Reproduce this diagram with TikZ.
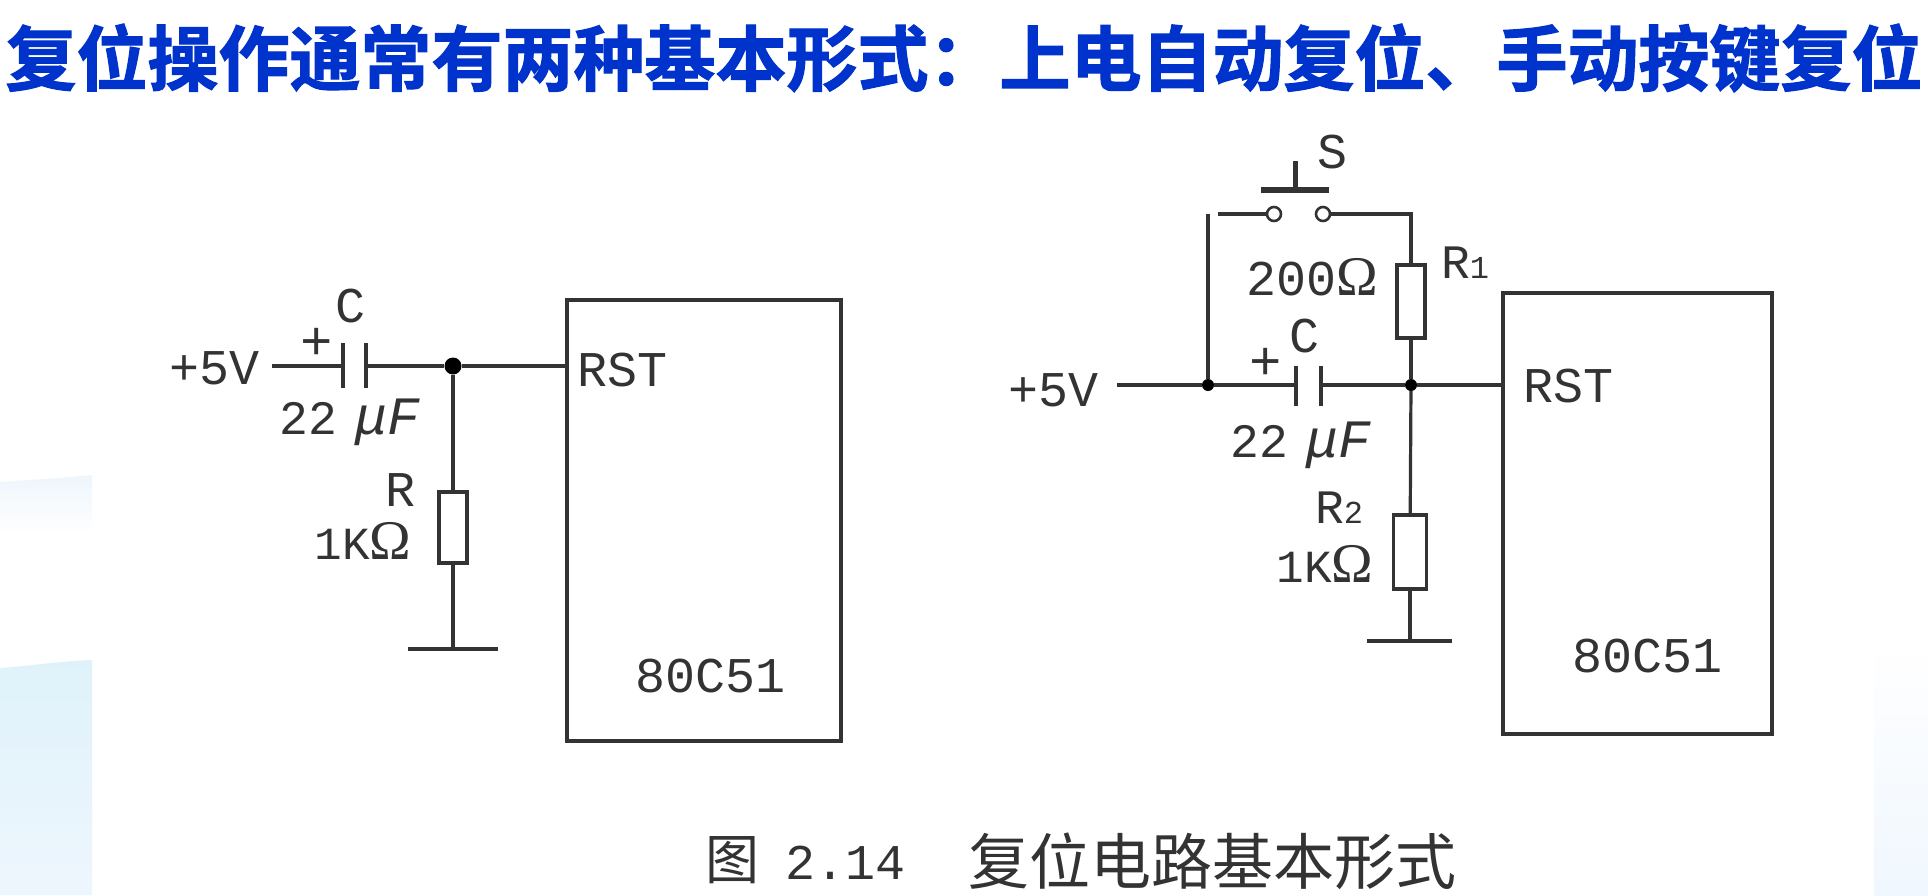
\documentclass[tikz,border=0pt]{standalone}
\usepackage{fontspec}
\setmainfont{Liberation Mono}
\newfontfamily\cjk{Noto Sans CJK SC}
\newfontfamily\cjkb[FakeBold=1.6]{Noto Sans CJK SC Bold}
\newfontfamily\ohmfont{Liberation Serif}
\newcommand{\bigohm}{{\ohmfont\fontsize{56}{56}\selectfont Ω}}
\newcommand{\capval}{22\hspace{18pt}{\itshape\fontsize{54}{54}\selectfont μF}}
\definecolor{ink}{HTML}{333333}
\definecolor{ttl}{HTML}{0033CC}
\definecolor{bandA}{HTML}{EEF6FC}
\definecolor{bandB}{HTML}{DFF2FA}
\definecolor{bandC}{HTML}{EEF6FD}
\definecolor{bandD}{HTML}{F0F7FE}
\tikzset{
  wire/.style={draw=ink,line width=3.2pt},
  lbl/.style={text=ink,inner sep=0pt,font=\fontsize{50}{50}\selectfont},
  slbl/.style={text=ink,inner sep=0pt,font=\fontsize{48}{48}\selectfont},
  res/.style={draw=ink,line width=3.2pt,fill=white,inner sep=0pt,minimum width=#1},
  res/.default=28pt,
  chip/.style={draw=ink,line width=3.6pt,inner sep=0pt},
  dot/.style={circle,fill=black,inner sep=0pt,minimum size=#1},
  term/.style={circle,draw=ink,line width=2.6pt,fill=white,inner sep=0pt,minimum size=14pt},
  pt/.style={coordinate}
}
\begin{document}
\begin{tikzpicture}[x=1pt,y=-1pt]
\useasboundingbox (0,0) rectangle (1928,895);
\fill[white] (0,0) rectangle (1928,895);
% pale background bands at the sides
\shade[top color=bandA,bottom color=white] (0,482) .. controls (30,480) and (60,478) .. (92,475) -- (92,535) -- (0,535) -- cycle;
\shade[top color=bandB,bottom color=bandC] (0,668) .. controls (30,666) and (60,661) .. (92,660) -- (92,895) -- (0,895) -- cycle;
\shade[top color=white,bottom color=bandD] (1874,640) rectangle (1928,895);
% title
\node[inner sep=0pt,text=ttl,font=\cjkb\fontsize{71}{72}\selectfont] (title) at (964,58) {复位操作通常有两种基本形式：上电自动复位、手动按键复位};
% left circuit
\node[chip,minimum width=274pt,minimum height=441pt] (chipL) at (704,520.5) {};
\node[lbl] (rstL) at (623,370) {RST};
\node[lbl] (mcuL) at (711,676) {80C51};
\node[lbl] (vL) at (215,368) {+5V};
\coordinate (inL) at (272,366);
\node[pt] (capLa) at (343,366) {};
\node[pt] (capLb) at (366,366) {};
\node[dot=17pt] (jL) at (453,366) {};
\node[res,minimum height=71pt] (rL) at (453,527.5) {};
\coordinate (gL) at (453,649);
\coordinate (glL) at (408,649);
\coordinate (grL) at (498,649);
\coordinate (rstPinL) at (chipL.west |- jL);
\draw[wire] (inL) -- (capLa);
\draw[wire] (capLa |- 0,343) -- (capLa |- 0,388);
\draw[wire] (capLb |- 0,343) -- (capLb |- 0,388);
\draw[wire] (capLb) -- (jL) -- (rstPinL);
\draw[wire] (jL) -- (rL);
\draw[wire] (rL) -- (gL);
\draw[wire] (glL) -- (grL);
\node[lbl] (cL) at (350,306) {C};
\node[lbl,font=\fontsize{54}{54}\selectfont] (plusL) at (317,344) {+};
\node[slbl] (valL) at (350,422) {\capval};
\node[lbl] (nameR) at (400,490) {R};
\node[slbl,font=\fontsize{46}{46}\selectfont] (valR) at (363,541) {1K\bigohm};
% right circuit
\node[chip,minimum width=269pt,minimum height=441pt] (chipR) at (1637.5,513.5) {};
\node[lbl] (rstR) at (1568,386) {RST};
\node[lbl] (mcuR) at (1647,656) {80C51};
\node[lbl] (vR) at (1053,390) {+5V};
\coordinate (inR) at (1117,385);
\node[dot=12pt] (jR1) at (1208,385) {};
\node[pt] (capRa) at (1296,385) {};
\node[pt] (capRb) at (1321,385) {};
\node[dot=12pt] (jR2) at (1411,385) {};
\coordinate (rstPinR) at (chipR.west |- jR2);
\node[res,minimum height=73pt] (r1) at (1411,301.5) {};
\node[res=33pt,minimum height=74pt] (r2) at (1410,552) {};
\coordinate (topL) at (1208,214);
\coordinate (topA) at (1218,214);
\node[term] (s1) at (1274,214) {};
\node[term] (s2) at (1323,214) {};
\coordinate (topR) at (1411,214);
\coordinate (gR) at (1410,641);
\coordinate (glR) at (1367,641);
\coordinate (grR) at (1452,641);
\coordinate (btnL) at (1261,190);
\coordinate (btnR) at (1329,190);
\coordinate (btnM) at (1295,190);
\coordinate (btnT) at (1295,161);
\draw[wire] (inR) -- (jR1) -- (capRa);
\draw[wire] (capRa |- 0,366) -- (capRa |- 0,406);
\draw[wire] (capRb |- 0,366) -- (capRb |- 0,406);
\draw[wire] (capRb) -- (jR2) -- (rstPinR);
\draw[wire] (jR1) -- (topL);
\draw[wire] (topA) -- (s1);
\draw[wire] (s2) -- (topR) -- (r1);
\draw[wire] (r1) -- (jR2);
\draw[wire] (jR2) -- (r2);
\draw[wire] (r2) -- (gR);
\draw[wire] (glR) -- (grR);
\draw[draw=ink,line width=5.5pt] (btnL) -- (btnR);
\draw[draw=ink,line width=5pt] (btnM) -- (btnT);
\node[lbl] (nameS) at (1332,152) {S};
\node[slbl] (name1) at (1465,263) {R\fontsize{32}{32}\selectfont 1};
\node[lbl] (val1) at (1312,277) {200\bigohm};
\node[lbl] (cR) at (1304,336) {C};
\node[lbl,font=\fontsize{54}{54}\selectfont] (plusR) at (1266,364) {+};
\node[slbl] (valC) at (1301,445) {\capval};
\node[slbl] (name2) at (1339,508) {R\fontsize{32}{32}\selectfont 2};
\node[slbl,font=\fontsize{46}{46}\selectfont] (val2) at (1325,564) {1K\bigohm};
% caption
\node[text=ink,inner sep=0pt,font=\cjk\fontsize{54}{54}\selectfont] (capA) at (732,860) {图};
\node[text=ink,inner sep=0pt,font=\fontsize{50}{50}\selectfont] (capB) at (846,863) {2.14};
\node[text=ink,inner sep=0pt,font=\cjk\fontsize{61}{61}\selectfont] (capC) at (1212,861) {复位电路基本形式};
\end{tikzpicture}
\end{document}
